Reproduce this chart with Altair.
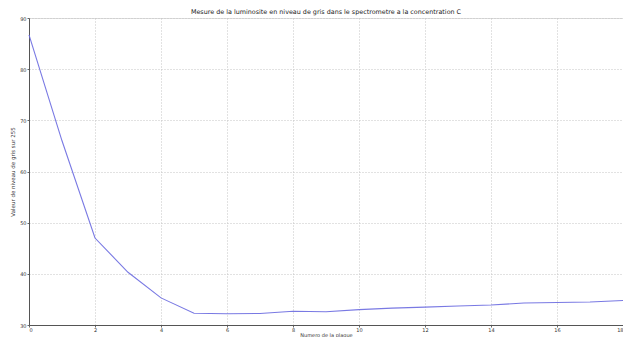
import altair as alt
import pandas as pd

plaque = list(range(19))
valeur = [86.7, 66.0, 47.0, 40.3, 35.3, 32.3, 32.2, 32.25, 32.7, 32.6, 33.0,
          33.3, 33.5, 33.7, 33.9, 34.3, 34.4, 34.5, 34.8]

df = pd.DataFrame({"plaque": plaque, "valeur": valeur})

line = alt.Chart(df).mark_line(color="#6a6ae0", strokeWidth=1.1, opacity=0.9).encode(
    x=alt.X("plaque:Q", scale=alt.Scale(domain=[0, 18], nice=False),
            axis=alt.Axis(title="Numero de la plaque", values=list(range(0, 19, 2)),
                          grid=True, gridDash=[1, 2], gridColor="#c4c4c4",
                          labelFontSize=5, titleFontSize=5, titleFontWeight="normal",
                          tickSize=2, tickColor="#666", domainColor="#555",
                          labelPadding=0, titlePadding=0, labelColor="#333", titleColor="#333")),
    y=alt.Y("valeur:Q", scale=alt.Scale(domain=[30, 90], nice=False, zero=False),
            axis=alt.Axis(title="Valeur de niveau de gris sur 255", values=list(range(30, 91, 10)),
                          grid=True, gridDash=[1, 2], gridColor="#c4c4c4",
                          labelFontSize=5, titleFontSize=5.5, titleFontWeight="normal",
                          tickSize=2, tickColor="#666", domainColor="#555",
                          labelPadding=1, titlePadding=4, labelColor="#333", titleColor="#333")),
)

chart = line.properties(
    width=594,
    height=307,
    title=alt.TitleParams(
        "Mesure de la luminosite en niveau de gris dans le spectrometre a la concentration C",
        fontSize=6.4, fontWeight="normal", color="#222", offset=1, anchor="middle",
    ),
    autosize=alt.AutoSizeParams(type="none"),
    padding={"left": 21, "top": 10, "right": 0, "bottom": 20},
).configure_view(stroke="#444", strokeWidth=1).configure(font="DejaVu Sans")

chart.save("out.html", embed_options={"renderer": "svg", "actions": False})
